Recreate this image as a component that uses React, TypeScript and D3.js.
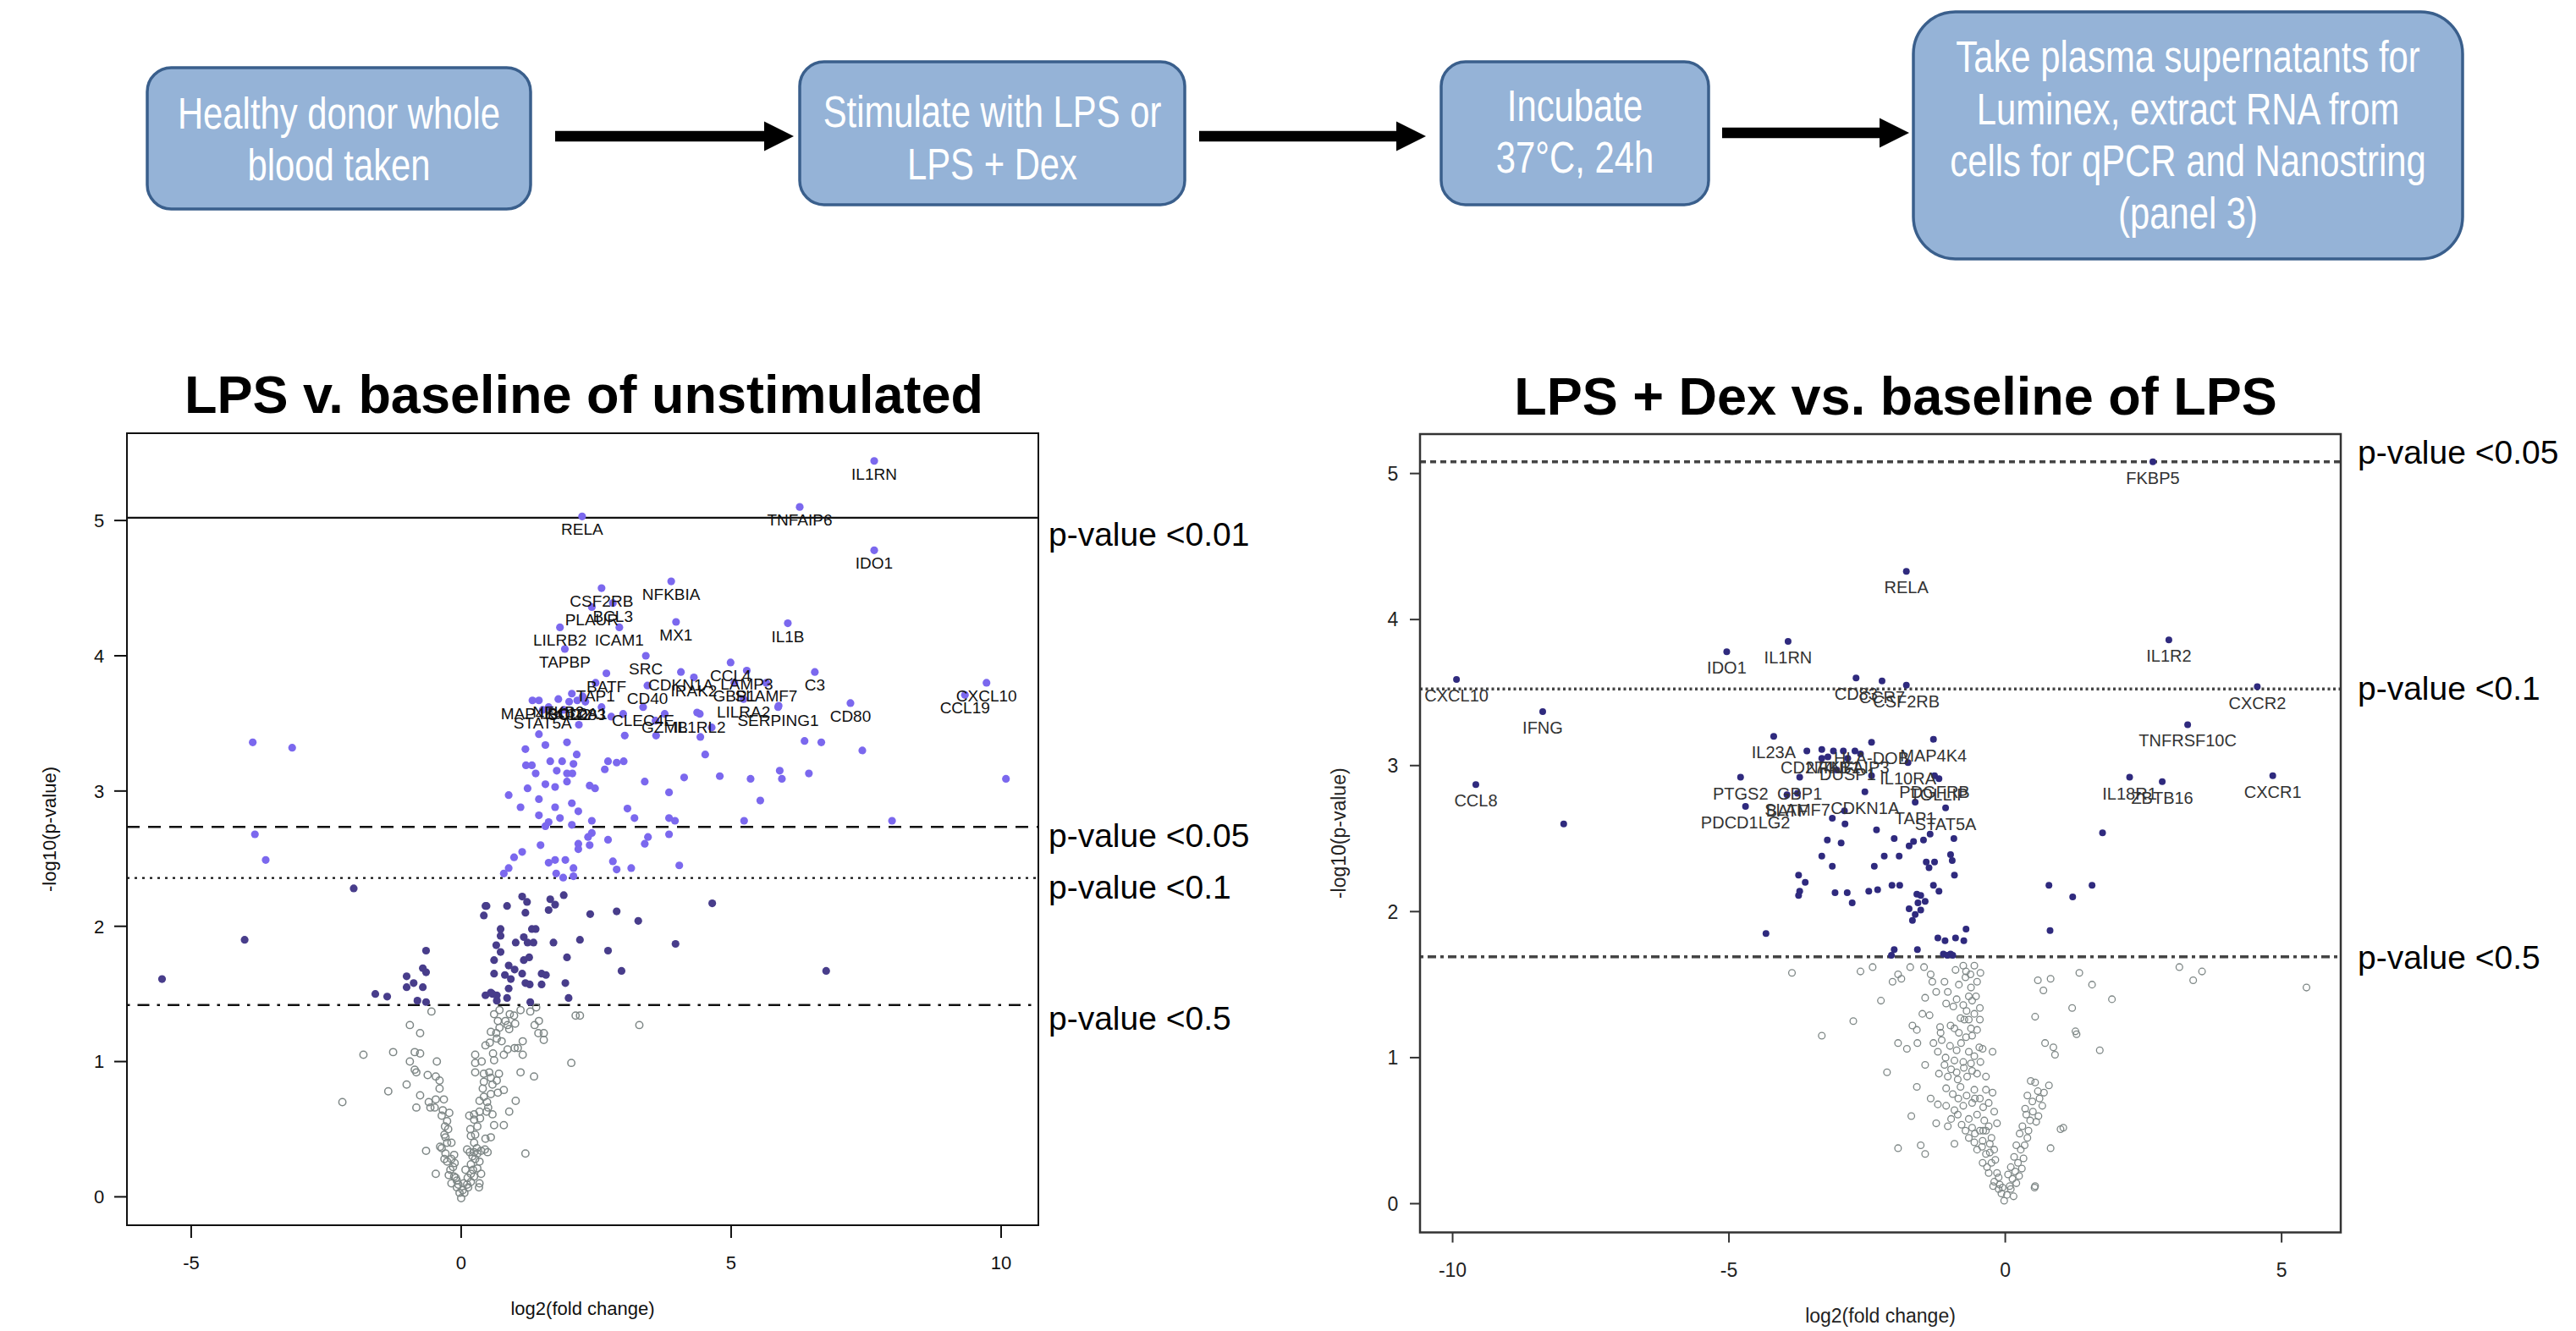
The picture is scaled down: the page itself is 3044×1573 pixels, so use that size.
import React from "react";
import * as d3 from "d3";

// ---------------- DATA ----------------
const flowSteps: string[][] = [
  ["Healthy donor whole", "blood taken"],
  ["Stimulate with LPS or", "LPS + Dex"],
  ["Incubate", "37°C, 24h"],
  ["Take plasma supernatants for", "Luminex, extract RNA from", "cells for qPCR and Nanostring", "(panel 3)"],
];

const leftTitle = "LPS v. baseline of unstimulated";
const rightTitle = "LPS + Dex vs. baseline of LPS";
const xAxisTitle = "log2(fold change)";
const yAxisTitle = "-log10(p-value)";

const leftXTicks = [-5, 0, 5, 10];
const leftYTicks = [0, 1, 2, 3, 4, 5];
const rightXTicks = [-10, -5, 0, 5];
const rightYTicks = [0, 1, 2, 3, 4, 5];

const leftThresholdValues = [5.02, 2.735, 2.357, 1.418];
const leftThresholdLabels = ["p-value <0.01", "p-value <0.05", "p-value <0.1", "p-value <0.5"];
const rightThresholdValues = [5.08, 3.525, 1.69];
const rightThresholdLabels = ["p-value <0.05", "p-value <0.1", "p-value <0.5"];

// labelled genes, LPS vs unstimulated: [name, log2FC, -log10 p]
const leftLabeled: [string, number, number][] = [
  ["IL1RN", 7.65, 5.44], ["TNFAIP6", 6.27, 5.10], ["RELA", 2.24, 5.03], ["IDO1", 7.65, 4.78],
  ["NFKBIA", 3.89, 4.55], ["CSF2RB", 2.60, 4.50], ["BCL3", 2.81, 4.39], ["PLAUR", 2.42, 4.36],
  ["LILRB2", 1.83, 4.21], ["ICAM1", 2.93, 4.21], ["MX1", 3.98, 4.25], ["IL1B", 6.05, 4.24],
  ["TAPBP", 1.92, 4.05], ["SRC", 3.42, 4.00], ["BATF", 2.69, 3.87], ["CCL4", 4.99, 3.95],
  ["CDKN1A", 4.07, 3.88], ["IRAK2", 4.31, 3.84], ["LAMP3", 5.29, 3.89], ["C3", 6.55, 3.88],
  ["GBP1", 5.06, 3.80], ["SLAMF7", 5.65, 3.80], ["CD40", 3.45, 3.78], ["TAP1", 2.49, 3.80],
  ["CXCL10", 9.73, 3.80], ["CCL19", 9.33, 3.71], ["CD80", 7.21, 3.65], ["LILRA2", 5.23, 3.68],
  ["SERPING1", 5.87, 3.62], ["MAP4K4", 1.32, 3.67], ["NFKB2", 1.80, 3.68], ["SOD2", 2.00, 3.66],
  ["BCL2A1", 2.15, 3.67], ["CD83", 2.30, 3.66], ["STAT5A", 1.51, 3.60], ["CLEC4E", 3.37, 3.62],
  ["GZMB", 3.77, 3.57], ["IL1RL2", 4.42, 3.57],
];

const leftColored: [number, number][] = [
  [1.44, 3.42], [1.19, 3.31], [1.56, 3.34], [1.96, 3.36], [2.14, 3.27], [1.65, 3.22], [1.87, 3.22], [2.08, 3.20],
  [1.20, 3.19], [1.31, 3.19], [1.77, 3.15], [1.38, 3.13], [1.96, 3.13], [2.06, 3.13], [1.96, 3.07], [1.56, 3.05],
  [1.74, 3.03], [1.23, 3.02], [0.88, 2.97], [1.44, 2.94], [1.10, 2.88], [1.74, 2.88], [2.05, 2.91], [2.17, 2.85],
  [1.44, 2.82], [1.83, 2.80], [1.62, 2.77], [2.42, 2.78], [1.56, 2.74], [2.05, 2.75], [2.72, 3.22], [2.88, 3.21],
  [3.01, 3.22], [2.66, 3.16], [2.38, 3.04], [2.48, 3.02], [3.03, 3.41], [3.61, 3.41], [3.40, 3.07], [3.08, 2.87],
  [3.21, 2.80], [3.85, 2.99], [3.85, 2.80], [3.96, 2.78], [4.13, 3.10], [4.43, 3.40], [4.52, 3.27], [4.79, 3.11],
  [5.36, 3.09], [5.90, 3.15], [5.94, 3.09], [5.54, 2.93], [5.24, 2.78], [6.36, 3.37], [6.44, 3.13], [4.37, 3.58],
  [5.88, 3.63], [1.47, 2.60], [1.13, 2.55], [0.98, 2.51], [0.88, 2.43], [0.79, 2.39], [1.62, 2.47], [1.74, 2.49],
  [1.93, 2.49], [2.08, 2.43], [1.76, 2.39], [1.89, 2.36], [2.08, 2.37], [2.17, 2.61], [2.17, 2.57], [2.38, 2.60],
  [2.42, 2.69], [2.35, 2.66], [2.72, 2.64], [2.81, 2.48], [2.88, 2.42], [3.15, 2.43], [3.40, 2.61], [3.46, 2.66],
  [3.85, 2.68], [4.04, 2.45], [-3.82, 2.68], [-3.62, 2.49], [-3.86, 3.36], [-3.13, 3.32], [7.98, 2.78], [10.09, 3.09],
  [7.43, 3.30], [6.67, 3.36], [2.18, 3.49], [4.64, 3.47], [1.44, 3.67], [2.05, 3.72], [2.25, 3.70], [1.62, 3.62],
  [2.60, 3.62], [3.00, 3.57], [2.78, 3.55], [1.90, 3.60], [3.60, 3.52],
];

const leftDark: [number, number][] = [
  [1.13, 2.22], [1.22, 2.18], [0.45, 2.15], [0.42, 2.08], [0.85, 2.15], [1.19, 2.10], [1.65, 2.20], [1.74, 2.16],
  [1.62, 2.12], [1.90, 2.23], [2.39, 2.09], [2.88, 2.11], [3.28, 2.04], [4.65, 2.17], [0.73, 1.98], [0.73, 1.93],
  [1.31, 1.98], [1.38, 1.98], [1.16, 1.92], [1.01, 1.88], [1.23, 1.88], [1.34, 1.88], [1.71, 1.88], [2.20, 1.90],
  [3.97, 1.87], [2.72, 1.82], [0.65, 1.86], [0.73, 1.81], [0.61, 1.75], [1.16, 1.75], [1.26, 1.77], [1.96, 1.77],
  [0.88, 1.71], [0.99, 1.68], [0.61, 1.65], [0.81, 1.64], [0.92, 1.61], [1.13, 1.65], [1.49, 1.65], [1.57, 1.64],
  [2.97, 1.67], [1.19, 1.58], [1.27, 1.57], [1.49, 1.57], [1.93, 1.58], [0.88, 1.54], [0.45, 1.49], [0.55, 1.51],
  [0.66, 1.49], [0.85, 1.47], [1.99, 1.47], [0.66, 1.45], [1.28, 1.44], [-1.99, 2.28], [-4.01, 1.90], [-5.54, 1.61],
  [-1.59, 1.50], [-1.37, 1.48], [-1.01, 1.63], [-1.01, 1.55], [-0.88, 1.58], [-0.71, 1.55], [-0.71, 1.69], [-0.65, 1.66],
  [-0.65, 1.82], [-0.81, 1.45], [-0.65, 1.44], [6.76, 1.67], [0.58, 1.50], [0.47, 2.15],
];

const leftGray: [number, number][] = [
  [-0.55, 1.37], [-0.95, 1.27], [-0.76, 1.21], [-1.81, 1.05], [-1.26, 1.07], [-0.86, 1.07], [-0.76, 1.06], [-0.95, 1.00],
  [-0.86, 0.94], [-0.83, 0.92], [-0.47, 0.89], [-0.40, 0.86], [-0.40, 0.80], [-1.01, 0.83], [-1.35, 0.78], [-0.76, 0.75],
  [-2.20, 0.70], [-0.83, 0.66], [-0.60, 0.70], [-0.57, 0.66], [-0.47, 0.72], [-0.32, 0.72], [-0.49, 0.66], [-0.34, 0.64],
  [-0.36, 0.60], [-0.26, 0.56], [-0.24, 0.50], [-0.29, 0.44], [-0.18, 0.40], [-0.36, 0.36], [-0.65, 0.34], [-0.29, 0.32],
  [-0.13, 0.31], [-0.26, 0.26], [-0.15, 0.22], [-0.47, 0.17], [-0.23, 0.16], [-0.10, 0.14], [-0.18, 0.10], [-0.08, 0.07],
  [-0.03, 0.03], [0.00, -0.01], [0.06, 0.03], [0.13, 0.07], [0.18, 0.11], [0.34, 0.10], [0.33, 0.07], [0.24, 0.15],
  [0.30, 0.21], [0.18, 0.24], [0.26, 0.28], [0.16, 0.33], [0.44, 0.35], [0.49, 0.33], [0.37, 0.34], [0.24, 0.40],
  [0.11, 0.35], [0.26, 0.46], [0.17, 0.50], [0.55, 0.44], [0.45, 0.43], [0.61, 0.53], [0.79, 0.53], [0.24, 0.57],
  [0.24, 0.61], [0.34, 0.63], [0.47, 0.63], [0.58, 0.61], [0.50, 0.66], [0.34, 0.71], [0.89, 0.63], [1.01, 0.71],
  [0.42, 0.74], [0.55, 0.76], [0.68, 0.77], [0.79, 0.79], [0.40, 0.80], [0.58, 0.83], [0.42, 0.85], [0.66, 0.86],
  [0.55, 0.88], [0.42, 0.91], [0.26, 0.92], [0.70, 0.91], [1.10, 0.92], [1.35, 0.89], [1.19, 0.32], [2.04, 0.99],
  [0.26, 0.99], [0.26, 1.05], [0.61, 1.01], [0.59, 1.06], [0.79, 1.05], [0.86, 1.09], [0.99, 1.10], [1.14, 1.05],
  [1.14, 1.15], [1.05, 1.10], [0.45, 1.12], [0.53, 1.14], [0.66, 1.17], [0.55, 1.22], [0.65, 1.21], [0.71, 1.25],
  [0.86, 1.27], [1.00, 1.28], [0.89, 1.24], [0.82, 1.30], [0.98, 1.34], [0.61, 1.35], [0.71, 1.38], [1.28, 1.37],
  [1.39, 1.40], [1.36, 1.27], [1.43, 1.21], [1.53, 1.16], [1.53, 1.21], [1.44, 1.30], [2.12, 1.34], [2.20, 1.34],
  [3.30, 1.27], [0.21, 0.30], [0.30, 0.32], [-0.31, 0.28], [-0.18, 0.28], [-0.05, 0.09], [0.03, 0.05], [0.11, 0.09],
  [-0.13, 0.15], [-0.26, 0.40], [0.34, 0.26], [0.08, 0.20], [0.18, 0.17], [0.37, 0.17], [0.29, 0.36], [0.18, 0.45],
  [0.24, 0.33], [-0.39, 0.37], [-0.31, 0.46], [-0.20, 0.20], [-0.12, 0.25], [0.12, 0.14], [0.22, 0.20], [-0.08, 0.12],
  [0.05, 0.10], [-0.30, 0.52], [0.30, 0.52], [0.35, 0.58], [-0.22, 0.62], [0.15, 0.60], [0.48, 0.70], [0.52, 0.92],
  [0.38, 1.00], [0.75, 1.15], [0.90, 1.35], [1.10, 1.38], [-0.45, 1.00], [-0.62, 0.90], [0.68, 1.30],
];

// labelled genes, LPS+Dex vs LPS
const rightLabeled: [string, number, number][] = [
  ["FKBP5", 2.67, 5.08], ["RELA", -1.79, 4.33], ["IL1R2", 2.96, 3.86], ["IL1RN", -3.93, 3.85],
  ["IDO1", -5.04, 3.78], ["CXCL10", -9.93, 3.59], ["CD83", -2.70, 3.60], ["CCR7", -2.23, 3.58],
  ["CSF2RB", -1.79, 3.55], ["CXCR2", 4.56, 3.54], ["IFNG", -8.37, 3.37], ["TNFRSF10C", 3.30, 3.28],
  ["MAP4K4", -1.30, 3.18], ["IL23A", -4.19, 3.20], ["HLA-DOB", -2.42, 3.16], ["CD274", -3.59, 3.10],
  ["NFKB1", -3.11, 3.10], ["TNFAIP3", -2.72, 3.10], ["DUSP1", -2.85, 3.05], ["IL10RA", -1.76, 3.02],
  ["PTGS2", -4.79, 2.92], ["GBP1", -3.72, 2.92], ["CXCR1", 4.84, 2.93], ["IL18R1", 2.25, 2.92],
  ["ZBTB16", 2.84, 2.89], ["PDGFRB", -1.28, 2.93], ["TOLLIP", -1.20, 2.91], ["CDKN1A", -2.54, 2.82],
  ["SLAMF7", -3.76, 2.81], ["BATF", -3.95, 2.80], ["TAP1", -1.63, 2.75], ["STAT5A", -1.08, 2.71],
  ["PDCD1LG2", -4.70, 2.72], ["CCL8", -9.58, 2.87],
];

const rightDark: [number, number][] = [
  [-3.32, 3.11], [-2.93, 3.10], [-2.62, 3.08], [-3.21, 3.06], [-3.32, 3.05], [-2.91, 2.69], [-3.13, 2.64], [-2.90, 2.60],
  [-2.33, 2.56], [-1.36, 2.53], [-3.22, 2.49], [-2.97, 2.47], [-2.01, 2.50], [-1.74, 2.45], [-1.66, 2.48], [-1.48, 2.49],
  [-0.93, 2.50], [-3.32, 2.38], [-2.19, 2.38], [-1.92, 2.38], [-2.37, 2.31], [-3.13, 2.31], [-1.43, 2.34], [-1.28, 2.34],
  [-1.38, 2.30], [-0.99, 2.39], [-0.96, 2.35], [-0.92, 2.25], [-3.74, 2.25], [-3.62, 2.20], [-3.72, 2.14], [-3.74, 2.11],
  [-3.08, 2.13], [-2.86, 2.13], [-2.77, 2.06], [-2.47, 2.14], [-2.31, 2.15], [-2.05, 2.18], [-1.91, 2.18], [-1.30, 2.18],
  [-1.20, 2.14], [-1.60, 2.12], [-1.53, 2.11], [-1.45, 2.07], [-1.58, 2.06], [-1.74, 2.02], [-1.53, 2.01], [-1.63, 1.98],
  [-1.68, 1.94], [-4.33, 1.85], [-0.71, 1.88], [-1.22, 1.82], [-1.09, 1.80], [-0.90, 1.82], [-0.75, 1.80], [-2.01, 1.74],
  [-1.59, 1.74], [-1.12, 1.71], [-0.99, 1.71], [-2.06, 1.70], [-1.05, 1.70], [-0.95, 1.70], [0.79, 2.18], [1.57, 2.18],
  [1.22, 2.10], [0.81, 1.87], [1.76, 2.54], [-7.99, 2.60], [-2.42, 2.93], [-3.05, 2.97],
];

const rightGray: [number, number][] = [
  [-3.86, 1.58], [-2.62, 1.59], [-2.25, 1.39], [-3.32, 1.15], [-2.14, 0.90], [-1.94, 0.38], [-1.53, 0.40], [-1.45, 0.34],
  [-0.92, 0.41], [-2.04, 1.52], [-1.94, 1.57], [-1.88, 1.54], [-1.72, 1.62], [-1.47, 1.62], [-1.35, 1.57], [-1.32, 1.52],
  [-1.45, 1.41], [-1.37, 1.29], [-1.68, 1.22], [-1.60, 1.19], [-1.59, 1.10], [-1.94, 1.10], [-1.78, 1.06], [-1.22, 1.04],
  [-1.18, 1.21], [-1.17, 1.17], [-1.04, 1.45], [-1.07, 1.37], [-0.94, 1.35], [-0.84, 1.50], [-0.76, 1.63], [-0.71, 1.59],
  [-0.63, 1.57], [-0.56, 1.63], [-0.51, 1.52], [-0.66, 1.42], [-0.60, 1.39], [-0.53, 1.42], [-0.76, 1.36], [-0.81, 1.27],
  [-0.74, 1.26], [-0.66, 1.26], [-0.99, 1.22], [-0.92, 1.20], [-0.84, 1.17], [-0.71, 1.14], [-0.60, 1.15], [-0.51, 1.19],
  [-0.47, 1.07], [-0.66, 1.04], [-0.56, 1.01], [-0.41, 1.06], [-0.23, 1.04], [-0.46, 1.34], [-0.46, 1.26], [-1.08, 1.00],
  [-0.92, 0.98], [-0.76, 0.97], [-0.60, 0.91], [-1.20, 0.89], [-1.04, 0.87], [-0.86, 0.85], [-0.69, 0.87], [-0.51, 0.89],
  [-0.35, 0.87], [-0.35, 0.78], [-0.56, 0.78], [-0.81, 0.80], [-1.07, 0.79], [-1.35, 0.72], [-1.22, 0.68], [-1.07, 0.67],
  [-0.92, 0.64], [-0.76, 0.67], [-0.60, 0.69], [-0.46, 0.72], [-0.30, 0.69], [-0.23, 0.76], [-0.20, 0.63], [-0.86, 0.61],
  [-0.66, 0.58], [-0.51, 0.61], [-0.38, 0.57], [-0.79, 0.54], [-0.60, 0.52], [-0.46, 0.50], [-0.30, 0.53], [-1.04, 0.53],
  [-0.66, 0.45], [-0.56, 0.42], [-0.41, 0.43], [-0.25, 0.45], [-0.51, 0.37], [-0.35, 0.34], [-0.20, 0.37], [-0.41, 0.28],
  [-0.25, 0.28], [-0.30, 0.21], [-0.15, 0.21], [-0.20, 0.15], [-0.10, 0.13], [-0.07, 0.07], [-0.02, 0.02], [0.03, 0.06],
  [0.08, 0.12], [0.13, 0.17], [0.18, 0.22], [0.23, 0.28], [0.05, 0.20], [0.16, 0.32], [0.28, 0.37], [0.26, 0.48],
  [0.31, 0.53], [0.38, 0.61], [0.36, 0.65], [0.49, 0.70], [0.59, 0.77], [0.54, 0.83], [0.67, 0.67], [0.56, 0.56],
  [1.05, 0.52], [0.82, 0.38], [0.54, 0.12], [0.46, 0.84], [0.79, 0.81], [0.72, 1.10], [0.87, 1.07], [0.90, 1.02],
  [1.71, 1.05], [1.27, 1.18], [1.29, 1.16], [0.54, 1.28], [1.21, 1.34], [1.93, 1.40], [0.69, 1.46], [0.59, 1.53],
  [0.82, 1.54], [1.34, 1.58], [1.57, 1.50], [5.45, 1.48], [3.15, 1.62], [3.56, 1.59], [3.40, 1.53], [1.00, 0.51],
  [0.53, 0.11], [-0.12, 0.10], [0.10, 0.25], [-0.28, 0.35], [0.20, 0.40], [-0.40, 0.50], [0.40, 0.45], [-0.15, 0.55],
  [-1.10, 0.95], [-0.98, 0.92], [-0.88, 0.90], [-0.75, 0.93], [-0.62, 0.96], [-0.45, 0.97], [-0.95, 0.75], [-0.85, 0.72],
  [-0.70, 0.74], [-0.55, 0.72], [-0.40, 0.66], [-0.98, 0.58], [-0.72, 0.50], [-0.55, 0.48], [-0.42, 0.39], [-0.35, 0.50],
  [-0.28, 0.41], [-0.18, 0.30], [-0.33, 0.25], [-0.12, 0.18], [-0.22, 0.12], [-0.05, 0.11], [0.10, 0.10], [0.15, 0.05],
  [0.20, 0.14], [0.25, 0.19], [0.30, 0.24], [0.33, 0.31], [0.35, 0.40], [0.42, 0.50], [0.45, 0.57], [0.50, 0.63],
  [0.60, 0.60], [0.62, 0.72], [0.70, 0.76], [0.40, 0.74], [-1.15, 1.12], [-1.00, 1.08], [-0.88, 1.05], [-0.80, 1.10],
  [-0.62, 1.20], [-0.56, 1.30], [-0.70, 1.32], [-0.88, 1.40], [-0.62, 1.48], [-0.72, 1.55], [-0.45, 1.58], [-0.90, 1.60],
  [-1.10, 1.52], [-1.25, 1.45], [-1.50, 1.30], [-1.30, 1.10], [-1.45, 0.95], [-1.60, 0.80], [-1.25, 0.55], [-2.40, 1.62],
  [-2.75, 1.25], [-1.70, 0.60],
];

// ---------------- LAYOUT ----------------
const W = 3044, H = 1573;
const FONT = "'Liberation Sans', Arial, Helvetica, sans-serif";

const flowBoxes = [
  { x: 174, y: 80, w: 453, h: 167, base: [152, 213] },
  { x: 945, y: 73, w: 455, h: 169, base: [150, 212] },
  { x: 1703, y: 73, w: 316, h: 169, base: [143, 204] },
  { x: 2261, y: 14, w: 649, h: 292, base: [85, 147, 208, 270] },
];
const flowArrows = [
  { x0: 656, x1: 938, y: 161 },
  { x0: 1417, x1: 1685, y: 161 },
  { x0: 2035, x1: 2256, y: 157 },
];

type PlotCfg = {
  title: string; titleX: number; titleY: number;
  box: { x0: number; x1: number; y0: number; y1: number };
  xDomain: [number, number]; yDomain: [number, number];
  xTicks: number[]; yTicks: number[];
  tickLen: number; tickFont: number; yTickLabelX: number; xTickLabelY: number;
  xTitleY: number; yTitleX: number; axisFont: number;
  thresholds: number[]; thrLabels: string[]; thrStyles: string[]; thrOffsets: number[];
  thrColor: string; thrWidth: number; thrLabelX: number;
  boxColor: string; boxWidth: number; textColor: string;
};

const dashMap: Record<string, string> = {
  solid: "none",
  dashed: "15 10",
  dotted: "3 6",
  dashdot: "3.5 9 14 9",
  rdashed: "7 5",
  rdotted: "3 3.5",
  rdashdot: "4 5 10 5",
};

function Plot({ cfg, children }: { cfg: PlotCfg; children: (x: any, y: any) => React.ReactNode }) {
  const { box } = cfg;
  const x = d3.scaleLinear().domain(cfg.xDomain).range([box.x0, box.x1]);
  const y = d3.scaleLinear().domain(cfg.yDomain).range([box.y1, box.y0]);
  const yMid = (box.y0 + box.y1) / 2;
  return (
    <g>
      <text x={cfg.titleX} y={cfg.titleY} textAnchor="middle" fontFamily={FONT} fontWeight="bold" fontSize={63} fill="#000">
        {cfg.title}
      </text>
      {cfg.thresholds.map((t, i) => (
        <g key={"thr" + i}>
          <line x1={box.x0} x2={box.x1} y1={y(t)} y2={y(t)} stroke={cfg.thrColor} strokeWidth={cfg.thrWidth}
            strokeDasharray={dashMap[cfg.thrStyles[i]]} />
          <text x={cfg.thrLabelX} y={y(t) + cfg.thrOffsets[i]} fontFamily={FONT} fontSize={39} fill="#000">
            {cfg.thrLabels[i]}
          </text>
        </g>
      ))}
      {children(x, y)}
      <rect x={box.x0} y={box.y0} width={box.x1 - box.x0} height={box.y1 - box.y0} fill="none"
        stroke={cfg.boxColor} strokeWidth={cfg.boxWidth} />
      {cfg.xTicks.map((t) => (
        <g key={"xt" + t}>
          <line x1={x(t)} x2={x(t)} y1={box.y1} y2={box.y1 + cfg.tickLen} stroke={cfg.boxColor} strokeWidth={2} />
          <text x={x(t)} y={cfg.xTickLabelY} textAnchor="middle" fontFamily={FONT} fontSize={cfg.tickFont} fill={cfg.textColor}>
            {t}
          </text>
        </g>
      ))}
      {cfg.yTicks.map((t) => (
        <g key={"yt" + t}>
          <line x1={box.x0 - cfg.tickLen} x2={box.x0} y1={y(t)} y2={y(t)} stroke={cfg.boxColor} strokeWidth={2} />
          <text x={cfg.yTickLabelX} y={y(t) + cfg.tickFont * 0.36} textAnchor="middle" fontFamily={FONT}
            fontSize={cfg.tickFont} fill={cfg.textColor}>
            {t}
          </text>
        </g>
      ))}
      <text x={(box.x0 + box.x1) / 2} y={cfg.xTitleY} textAnchor="middle" fontFamily={FONT} fontSize={cfg.axisFont}
        fill={cfg.textColor}>
        {xAxisTitle}
      </text>
      <text transform={`translate(${cfg.yTitleX},${yMid}) rotate(-90)`} textAnchor="middle" fontFamily={FONT}
        fontSize={cfg.axisFont} fill={cfg.textColor} dy="0.35em">
        {yAxisTitle}
      </text>
    </g>
  );
}

const leftCfg: PlotCfg = {
  title: leftTitle, titleX: 690, titleY: 488,
  box: { x0: 150, x1: 1227, y0: 512, y1: 1448 },
  xDomain: [-6.19, 10.69], yDomain: [-0.21, 5.645],
  xTicks: leftXTicks, yTicks: leftYTicks,
  tickLen: 15, tickFont: 22, yTickLabelX: 117, xTickLabelY: 1500,
  xTitleY: 1554, yTitleX: 58, axisFont: 22,
  thresholds: leftThresholdValues, thrLabels: leftThresholdLabels,
  thrStyles: ["solid", "dashed", "dotted", "dashdot"], thrOffsets: [33, 24, 24, 29],
  thrColor: "#111", thrWidth: 2.4, thrLabelX: 1239,
  boxColor: "#111", boxWidth: 2, textColor: "#111",
};

const rightCfg: PlotCfg = {
  title: rightTitle, titleX: 2240, titleY: 490,
  box: { x0: 1678, x1: 2766, y0: 513, y1: 1456.5 },
  xDomain: [-10.59, 6.07], yDomain: [-0.197, 5.27],
  xTicks: rightXTicks, yTicks: rightYTicks,
  tickLen: 12, tickFont: 23, yTickLabelX: 1646, xTickLabelY: 1509,
  xTitleY: 1563, yTitleX: 1582, axisFont: 23,
  thresholds: rightThresholdValues, thrLabels: rightThresholdLabels,
  thrStyles: ["rdashed", "rdotted", "rdashdot"], thrOffsets: [2, 13, 14],
  thrColor: "#444", thrWidth: 3.5, thrLabelX: 2786,
  boxColor: "#333", boxWidth: 2.5, textColor: "#222",
};

const LIGHT = "#7B68EE";
const DARK = "#483D8B";
const NAVY = "#2f2a7e";
const GRAY = "#7e8786";

export default function App() {
  const leftColor = (v: number) => (v > leftThresholdValues[2] ? LIGHT : DARK);
  return (
    <svg width={W} height={H} style={{ position: "absolute", left: 0, top: 0, background: "#fff" }}
      xmlns="http://www.w3.org/2000/svg">
      <rect x={0} y={0} width={W} height={H} fill="#fff" />
      {/* flowchart */}
      {flowBoxes.map((b, i) => (
        <g key={"fb" + i}>
          <rect x={b.x} y={b.y} width={b.w} height={b.h} rx={Math.min(b.w, b.h) * 0.17}
            fill="#95B3D7" stroke="#3A5F8C" strokeWidth={3.5} />
          {flowSteps[i].map((line, j) => (
            <text key={j} transform={`translate(${b.x + b.w / 2},${b.base[j]}) scale(0.82,1)`} textAnchor="middle"
              fontFamily={FONT} fontSize={51} fill="#fff">
              {line}
            </text>
          ))}
        </g>
      ))}
      {flowArrows.map((a, i) => {
        const hl = 35, sh = 6.2, hh = 17.5;
        const pts = [
          [a.x0, a.y - sh], [a.x1 - hl, a.y - sh], [a.x1 - hl, a.y - hh], [a.x1, a.y],
          [a.x1 - hl, a.y + hh], [a.x1 - hl, a.y + sh], [a.x0, a.y + sh],
        ];
        return <polygon key={"ar" + i} points={pts.map((p) => p.join(",")).join(" ")} fill="#000" />;
      })}

      <Plot cfg={leftCfg}>
        {(x, y) => (
          <g>
            {leftGray.map((p, i) => (
              <circle key={"lg" + i} cx={x(p[0])} cy={y(p[1])} r={4.2} fill="none" stroke={GRAY} strokeWidth={1.5} />
            ))}
            {leftDark.map((p, i) => (
              <circle key={"ld" + i} cx={x(p[0])} cy={y(p[1])} r={4.6} fill={leftColor(p[1])} />
            ))}
            {leftColored.map((p, i) => (
              <circle key={"lc" + i} cx={x(p[0])} cy={y(p[1])} r={4.6} fill={leftColor(p[1])} />
            ))}
            {leftLabeled.map((p, i) => (
              <circle key={"ll" + i} cx={x(p[1])} cy={y(p[2])} r={4.6} fill={leftColor(p[2])} />
            ))}
            {leftLabeled.map((p, i) => (
              <text key={"lt" + i} x={x(p[1])} y={y(p[2]) + 22} textAnchor="middle" fontFamily={FONT} fontSize={19}
                fill="#111">
                {p[0]}
              </text>
            ))}
          </g>
        )}
      </Plot>

      <Plot cfg={rightCfg}>
        {(x, y) => (
          <g>
            {rightGray.map((p, i) => (
              <circle key={"rg" + i} cx={x(p[0])} cy={y(p[1])} r={3.9} fill="none" stroke={GRAY} strokeWidth={1.3} />
            ))}
            {rightDark.map((p, i) => (
              <circle key={"rd" + i} cx={x(p[0])} cy={y(p[1])} r={4} fill={NAVY} />
            ))}
            {rightLabeled.map((p, i) => (
              <circle key={"rl" + i} cx={x(p[1])} cy={y(p[2])} r={4} fill={NAVY} />
            ))}
            {rightLabeled.map((p, i) => (
              <text key={"rt" + i} x={x(p[1])} y={y(p[2]) + 26} textAnchor="middle" fontFamily={FONT} fontSize={20}
                fill="#333">
                {p[0]}
              </text>
            ))}
          </g>
        )}
      </Plot>
    </svg>
  );
}
